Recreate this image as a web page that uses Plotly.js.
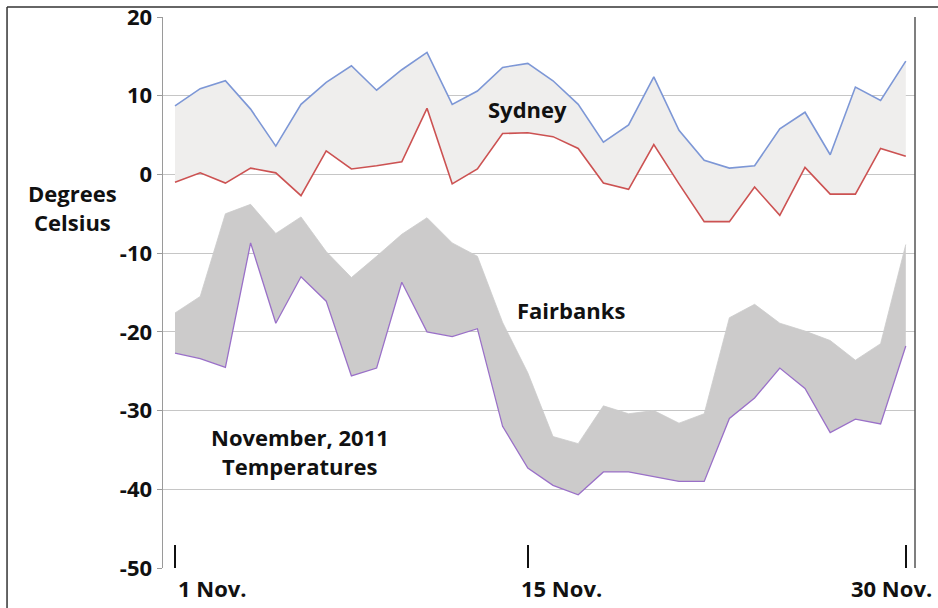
<!DOCTYPE html>
<html>
<head>
<meta charset="utf-8">
<script src="https://cdn.plot.ly/plotly-3.0.1.min.js"></script>
<style>html,body{margin:0;padding:0;background:#fff;}#chart{width:938px;height:608px;}</style>
</head>
<body>
<div id="chart"></div>
<script>
// Data (November 2011 daily temperatures, °C)
const days = [1,2,3,4,5,6,7,8,9,10,11,12,13,14,15,16,17,18,19,20,21,22,23,24,25,26,27,28,29,30];
const sydneyHigh = [8.7,10.9,11.9,8.3,3.6,8.9,11.7,13.8,10.7,13.3,15.5,8.9,10.6,13.6,14.1,11.9,8.9,4.1,6.3,12.4,5.6,1.8,0.8,1.1,5.8,7.9,2.5,11.1,9.4,14.4];
const sydneyLow = [-1.0,0.2,-1.1,0.8,0.2,-2.7,3.0,0.7,1.1,1.6,8.4,-1.2,0.7,5.2,5.3,4.8,3.3,-1.1,-1.9,3.8,-1.2,-6.0,-6.0,-1.6,-5.2,0.9,-2.5,-2.5,3.3,2.3];
const fairbanksHigh = [-17.6,-15.5,-5.0,-3.8,-7.5,-5.4,-9.8,-13.1,-10.4,-7.6,-5.5,-8.7,-10.4,-18.8,-25.2,-33.3,-34.2,-29.4,-30.4,-30.0,-31.6,-30.4,-18.2,-16.5,-18.9,-19.9,-21.1,-23.6,-21.5,-8.9];
const fairbanksLow = [-22.7,-23.4,-24.5,-8.7,-18.9,-13.0,-16.1,-25.6,-24.6,-13.7,-20.0,-20.6,-19.6,-32.0,-37.3,-39.5,-40.7,-37.8,-37.8,-38.4,-39.0,-39.0,-31.0,-28.4,-24.6,-27.2,-32.8,-31.1,-31.7,-21.8];
const xTickVals = [1, 15, 30];
const xTickText = ['1 Nov.', '15 Nov.', '30 Nov.'];
const yTickVals = [20, 10, 0, -10, -20, -30, -40, -50];
const yTickText = ['20', '10', '0', '-10', '-20', '-30', '-40', '-50'];

const FONT = '"Open Sans", "DejaVu Sans", sans-serif';
const textFont = {family: FONT, size: 22, color: '#111', weight: 700};

const traces = [
  {x: days, y: sydneyLow, type: 'scatter', mode: 'lines',
   line: {color: '#cc5252', width: 1.6}, hoverinfo: 'skip'},
  {x: days, y: sydneyHigh, type: 'scatter', mode: 'lines', fill: 'tonexty',
   fillcolor: '#efeeed', line: {color: '#7d97d6', width: 1.6}, hoverinfo: 'skip'},
  {x: days, y: fairbanksLow, type: 'scatter', mode: 'lines',
   line: {color: '#9a70c8', width: 1.3}, hoverinfo: 'skip'},
  {x: days, y: fairbanksHigh, type: 'scatter', mode: 'lines', fill: 'tonexty',
   fillcolor: '#cccbcb', line: {color: '#cccbcb', width: 0.8}, hoverinfo: 'skip'}
];

const xLabelShift = [1, -9, 28];
const xLabelAnchor = ['left', 'left', 'right'];
const annotations = xTickVals.map((v, i) => ({
  x: v, y: 0, xref: 'x', yref: 'paper', yanchor: 'top', yshift: -3,
  xanchor: xLabelAnchor[i], xshift: xLabelShift[i],
  text: xTickText[i], showarrow: false, font: textFont
}));
const labels = [
  {x: 15, y: 8.3, xref: 'x', yref: 'y', text: 'Sydney'},
  {x: 16.7, y: -17.2, xref: 'x', yref: 'y', text: 'Fairbanks'},
  {x: 5.96, y: -33.3, xref: 'x', yref: 'y', text: 'November, 2011'},
  {x: 5.96, y: -37.0, xref: 'x', yref: 'y', text: 'Temperatures'},
  {x: -0.121, y: 0.6806, xref: 'paper', yref: 'paper', text: 'Degrees'},
  {x: -0.121, y: 0.628, xref: 'paper', yref: 'paper', text: 'Celsius'}
];
labels.forEach(a => annotations.push(Object.assign(a, {
  xanchor: 'center', yanchor: 'middle', showarrow: false, font: textFont
})));

const layout = {
  width: 938, height: 608,
  margin: {l: 163, r: 23, t: 17, b: 40, pad: 0},
  paper_bgcolor: '#ffffff', plot_bgcolor: '#ffffff',
  showlegend: false,
  xaxis: {
    range: [0.524, 30.365], showgrid: false, zeroline: false, showline: false,
    tickvals: xTickVals, ticktext: xTickText, showticklabels: false,
    ticks: 'inside', ticklen: 23, tickwidth: 2, tickcolor: '#111'
  },
  yaxis: {
    range: [-50, 20], tickvals: yTickVals, ticktext: yTickText,
    showgrid: true, gridcolor: '#c6c6c6', gridwidth: 1, zeroline: false,
    showline: true, linecolor: '#9a9a9a', linewidth: 1.5,
    ticks: 'outside', ticklen: 5, tickcolor: '#9a9a9a', tickwidth: 1,
    tickfont: {family: FONT, size: 22, color: '#111', weight: 700}
  },
  annotations: annotations,
  shapes: [
    {type: 'line', xref: 'paper', yref: 'paper', x0: 1, x1: 1, y0: 0, y1: 1,
     line: {color: '#555', width: 1.5}},
    {type: 'line', xref: 'paper', yref: 'paper', x0: -0.2074, x1: -0.2074, y0: -0.08, y1: 1.0181,
     line: {color: '#333', width: 1.5}},
    {type: 'line', xref: 'paper', yref: 'paper', x0: -0.2074, x1: 1.04, y0: 1.0181, y1: 1.0181,
     line: {color: '#333', width: 1.5}}
  ]
};

Plotly.newPlot('chart', traces, layout, {staticPlot: true, displayModeBar: false});
</script>
</body>
</html>
